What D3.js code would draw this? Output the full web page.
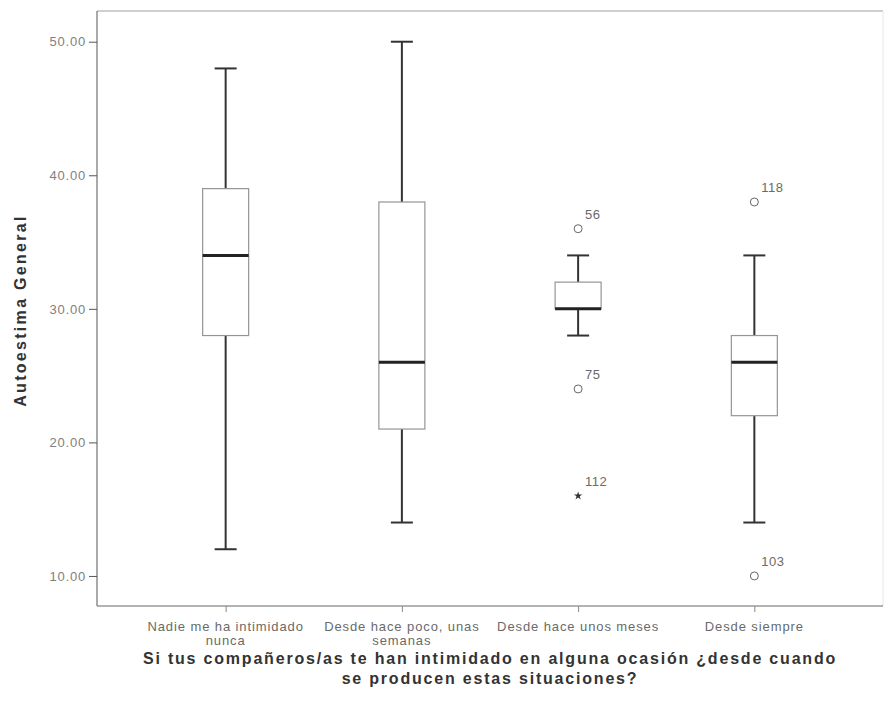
<!DOCTYPE html>
<html>
<head>
<meta charset="utf-8">
<script src="https://cdn.jsdelivr.net/npm/d3@7"></script>
<style>
  body { margin: 0; background: #fff; }
  svg { display: block; font-family: Arial, "Liberation Sans", sans-serif; }
</style>
</head>
<body>
<svg id="chart"></svg>
<script>
// categories (each split into lines as shown under the axis)
let categories = ['Nadie me ha intimidado nunca', 'Desde hace poco, unas semanas', 'Desde hace unos meses', 'Desde siempre']
let categoryLines = [['Nadie me ha intimidado', 'nunca'], ['Desde hace poco, unas', 'semanas'], ['Desde hace unos meses'], ['Desde siempre']]

// box statistics per category
let whiskerLow = [12, 14, 28, 14]
let q1 = [28, 21, 30, 22]
let medians = [34, 26, 30, 26]
let q3 = [39, 38, 32, 28]
let whiskerHigh = [48, 50, 34, 34]

// outliers: category index, value, case label, kind
let outlierCat = [2, 2, 2, 3, 3]
let outlierVal = [36, 24, 16, 38, 10]
let outlierLabel = ['56', '75', '112', '118', '103']
let outlierKind = ['circle', 'circle', 'star', 'circle', 'circle']

let yTicks = [10, 20, 30, 40, 50]

let width = 884
let height = 711
let plotLeft = 97
let plotRight = 883
let plotTop = 11
let plotBottom = 606

let svg = d3.select('#chart').attr('width', width).attr('height', height)

let xScale = d3.scalePoint()
               .domain(categories)
               .range([plotLeft, plotRight])
               .padding(0.73)

let yScale = d3.scaleLinear()
               .domain([7.75, 52.3])
               .range([plotBottom, plotTop])

let boxWidth = 46

// frame (top and right, light look)
svg.append('line')
   .attr('x1', plotLeft).attr('x2', plotRight).attr('y1', plotTop).attr('y2', plotTop)
   .attr('stroke', '#a0a0a0').attr('stroke-width', 1)
svg.append('line')
   .attr('x1', plotRight).attr('x2', plotRight).attr('y1', plotTop).attr('y2', plotBottom)
   .attr('stroke', '#e6e6e6').attr('stroke-width', 1)

// axes
let yAxis = d3.axisLeft(yScale)
              .tickValues(yTicks)
              .tickFormat(d3.format('.2f'))
              .tickSize(8)
              .tickSizeOuter(0)
let xAxis = d3.axisBottom(xScale)
              .tickSize(6)
              .tickSizeOuter(0)
              .tickFormat('')

let gy = svg.append('g')
            .attr('transform', 'translate(' + plotLeft + ',0)')
            .call(yAxis)
gy.select('.domain').attr('stroke', '#555').attr('d', 'M0,' + plotTop + 'V' + plotBottom)
gy.selectAll('.tick line').attr('stroke', '#555')
gy.selectAll('.tick text')
  .attr('fill', '#808080')
  .style('font-size', '13px')
  .style('letter-spacing', '0.8px')
  .attr('x', -11)

let gx = svg.append('g')
            .attr('transform', 'translate(0,' + plotBottom + ')')
            .call(xAxis)
gx.select('.domain').attr('stroke', '#666').attr('d', 'M' + plotLeft + ',0H' + plotRight)
gx.selectAll('.tick line').attr('stroke', '#888')

// category labels
categories.forEach((c, i) => {
  let t = svg.append('text')
             .attr('x', xScale(c))
             .attr('y', plotBottom + 25)
             .attr('text-anchor', 'middle')
             .attr('fill', '#6a6a6a')
             .style('font-size', '13px')
             .style('letter-spacing', '0.9px')
  categoryLines[i].forEach((line, j) => {
    t.append('tspan')
     .attr('x', xScale(c))
     .attr('dy', j === 0 ? 0 : 14)
     .text(line)
  })
})

// boxes and whiskers
let boxes = svg.append('g')
categories.forEach((c, i) => {
  let cx = xScale(c)
  let g = boxes.append('g')
  // upper whisker
  g.append('line')
   .attr('x1', cx).attr('x2', cx)
   .attr('y1', yScale(whiskerHigh[i])).attr('y2', yScale(q3[i]))
   .attr('stroke', '#333').attr('stroke-width', 2)
  g.append('line')
   .attr('x1', cx - 11).attr('x2', cx + 11)
   .attr('y1', yScale(whiskerHigh[i])).attr('y2', yScale(whiskerHigh[i]))
   .attr('stroke', '#333').attr('stroke-width', 2)
  // lower whisker
  g.append('line')
   .attr('x1', cx).attr('x2', cx)
   .attr('y1', yScale(q1[i])).attr('y2', yScale(whiskerLow[i]))
   .attr('stroke', '#333').attr('stroke-width', 2)
  g.append('line')
   .attr('x1', cx - 11).attr('x2', cx + 11)
   .attr('y1', yScale(whiskerLow[i])).attr('y2', yScale(whiskerLow[i]))
   .attr('stroke', '#333').attr('stroke-width', 2)
  // box
  g.append('rect')
   .attr('x', cx - boxWidth / 2)
   .attr('y', yScale(q3[i]))
   .attr('width', boxWidth)
   .attr('height', yScale(q1[i]) - yScale(q3[i]))
   .attr('fill', '#fff')
   .attr('stroke', '#959595')
   .attr('stroke-width', 1.2)
  // median
  g.append('line')
   .attr('x1', cx - boxWidth / 2).attr('x2', cx + boxWidth / 2)
   .attr('y1', yScale(medians[i])).attr('y2', yScale(medians[i]))
   .attr('stroke', '#222').attr('stroke-width', 3)
})

// outliers
outlierVal.forEach((v, i) => {
  let cx = xScale(categories[outlierCat[i]])
  let cy = yScale(v)
  if (outlierKind[i] === 'circle') {
    svg.append('circle')
       .attr('cx', cx).attr('cy', cy).attr('r', 4)
       .attr('fill', 'none').attr('stroke', '#666').attr('stroke-width', 1)
  } else {
    svg.append('path')
       .attr('d', d3.symbol().type(d3.symbolStar).size(22)())
       .attr('transform', 'translate(' + cx + ',' + cy + ')')
       .attr('fill', '#333')
  }
  svg.append('text')
     .attr('x', cx + 7)
     .attr('y', cy - 10)
     .attr('fill', '#6a6a6a')
     .style('font-size', '13px')
     .style('letter-spacing', '0.5px')
     .text(outlierLabel[i])
})

// axis titles
svg.append('text')
   .attr('transform', 'translate(26,' + ((plotTop + plotBottom) / 2 + 2) + ') rotate(-90)')
   .attr('text-anchor', 'middle')
   .attr('fill', '#333')
   .style('font-size', '16px')
   .style('font-weight', 'bold')
   .style('letter-spacing', '2.3px')
   .text('Autoestima General')

let title = svg.append('text')
               .attr('x', 490)
               .attr('y', 664)
               .attr('text-anchor', 'middle')
               .attr('fill', '#333')
               .style('font-size', '16px')
               .style('font-weight', 'bold')
               .style('letter-spacing', '1.8px')
title.append('tspan').attr('x', 490).text('Si tus compañeros/as te han intimidado en alguna ocasión ¿desde cuando')
title.append('tspan').attr('x', 490).attr('dy', 20).text('se producen estas situaciones?')
</script>
</body>
</html>
